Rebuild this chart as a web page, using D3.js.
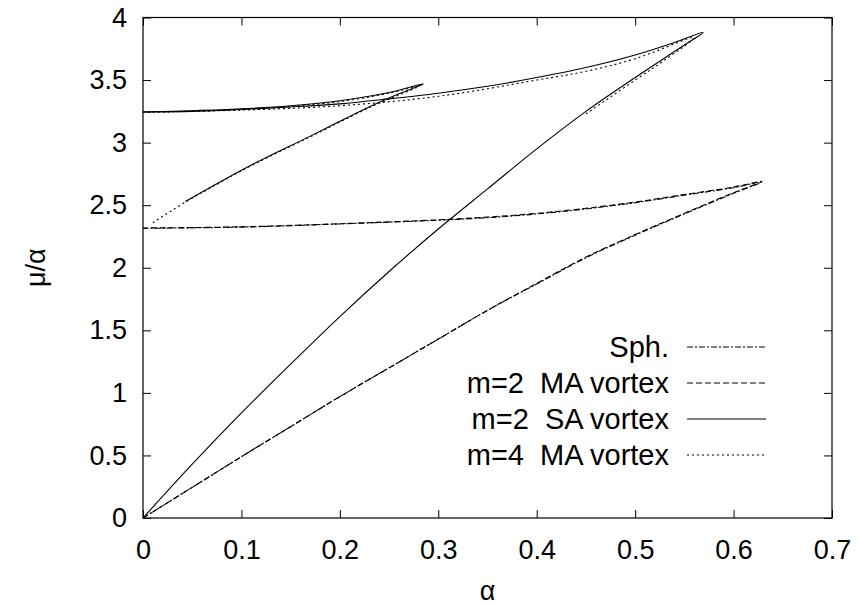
<!DOCTYPE html>
<html>
<head>
<meta charset="utf-8">
<script src="https://cdn.jsdelivr.net/npm/d3@7"></script>
<style>
  body { margin: 0; background: #fff; }
  text { font-family: "Liberation Sans", Arial, sans-serif; fill: #000; }
</style>
</head>
<body>
<div id="chart-area"></div>
<script>
const MARGIN = { LEFT: 143, RIGHT: 28, TOP: 17.5, BOTTOM: 87 };
const WIDTH = 860 - MARGIN.LEFT - MARGIN.RIGHT;
const HEIGHT = 605 - MARGIN.TOP - MARGIN.BOTTOM;
const FONT = 27;

const xTicks = [0, 0.1, 0.2, 0.3, 0.4, 0.5, 0.6, 0.7];
const yTicks = [0, 0.5, 1, 1.5, 2, 2.5, 3, 3.5, 4];

// Sph. : lower and upper branch joined at the turning point
const sphAlpha = [0, 0.05, 0.1, 0.15, 0.2, 0.25, 0.3, 0.35, 0.4, 0.45, 0.5, 0.55, 0.6, 0.628,
                  0.6, 0.55, 0.5, 0.45, 0.4, 0.35, 0.3, 0.2, 0.1, 0];
const sphMu = [0, 0.245, 0.49, 0.73, 0.97, 1.2, 1.43, 1.66, 1.87, 2.08, 2.26, 2.43, 2.595, 2.685,
               2.64, 2.58, 2.52, 2.47, 2.43, 2.40, 2.38, 2.35, 2.325, 2.315];

// m=2 MA vortex
const m2maAlpha = [0, 0.05, 0.1, 0.15, 0.2, 0.25, 0.3, 0.35, 0.4, 0.45, 0.5, 0.55, 0.6, 0.629,
                   0.6, 0.55, 0.5, 0.45, 0.4, 0.35, 0.3, 0.2, 0.1, 0];
const m2maMu = [0, 0.245, 0.49, 0.73, 0.97, 1.2, 1.43, 1.66, 1.875, 2.085, 2.265, 2.435, 2.6, 2.69,
                2.645, 2.585, 2.525, 2.475, 2.435, 2.405, 2.383, 2.352, 2.327, 2.318];

// m=2 SA vortex: large loop and small loop
const m2saAlpha = [0, 0.05, 0.1, 0.15, 0.2, 0.25, 0.3, 0.35, 0.4, 0.45, 0.5, 0.55, 0.569,
                   0.54, 0.5, 0.45, 0.4, 0.35, 0.3, 0.25, 0.2, 0.15, 0.1, 0.05, 0];
const m2saMu = [0, 0.43, 0.84, 1.23, 1.61, 1.97, 2.31, 2.63, 2.95, 3.25, 3.52, 3.78, 3.88,
                3.80, 3.70, 3.60, 3.52, 3.45, 3.395, 3.35, 3.31, 3.285, 3.265, 3.25, 3.245];
const m2saSmallAlpha = [0.043, 0.07, 0.1, 0.13, 0.167, 0.2, 0.234, 0.26, 0.285,
                        0.25, 0.2, 0.15, 0.1, 0.05, 0];
const m2saSmallMu = [2.53, 2.65, 2.78, 2.90, 3.04, 3.17, 3.30, 3.39, 3.47,
                     3.40, 3.335, 3.295, 3.27, 3.255, 3.245];

// m=4 MA vortex
const m4maAlpha = [0.45, 0.5, 0.53, 0.56, 0.5, 0.45, 0.4, 0.3, 0.2, 0.1, 0];
const m4maMu = [3.23, 3.50, 3.66, 3.84, 3.67, 3.57, 3.50, 3.37, 3.295, 3.26, 3.245];
const m4maSmallAlpha = [0.01, 0.043, 0.07, 0.1, 0.13, 0.167, 0.2, 0.234, 0.26, 0.28,
                        0.25, 0.2, 0.15, 0.1, 0.05, 0];
const m4maSmallMu = [2.36, 2.525, 2.645, 2.775, 2.895, 3.035, 3.165, 3.295, 3.38, 3.45,
                     3.395, 3.328, 3.29, 3.265, 3.25, 3.243];

const legendLabels = ['Sph.', 'm=2  MA vortex', 'm=2  SA vortex', 'm=4  MA vortex'];
const dashes = ['6,2,2,2', '6,3', null, '2,3'];

const zip = (a, b) => a.map((v, i) => [v, b[i]]);
const series = [
  { style: 0, curves: [zip(sphAlpha, sphMu)] },
  { style: 1, curves: [zip(m2maAlpha, m2maMu)] },
  { style: 2, curves: [zip(m2saAlpha, m2saMu), zip(m2saSmallAlpha, m2saSmallMu)] },
  { style: 3, curves: [zip(m4maAlpha, m4maMu), zip(m4maSmallAlpha, m4maSmallMu)] }
];

const x = d3.scaleLinear().domain([0, 0.7]).range([0, WIDTH]);
const y = d3.scaleLinear().domain([0, 4]).range([HEIGHT, 0]);

const svg = d3.select('#chart-area').append('svg')
  .attr('width', 860)
  .attr('height', 605);

const g = svg.append('g')
  .attr('transform', `translate(${MARGIN.LEFT}, ${MARGIN.TOP})`);

// ticks on all four sides, pointing inward
const tickLen = 8;
g.append('g').attr('transform', `translate(0, ${HEIGHT})`)
  .call(d3.axisBottom(x).tickValues(xTicks).tickSizeInner(-tickLen).tickSizeOuter(0).tickPadding(22).tickFormat(d3.format('')))
  .call(a => a.select('.domain').remove());
g.append('g')
  .call(d3.axisTop(x).tickValues(xTicks).tickSizeInner(-tickLen).tickSizeOuter(0).tickFormat(''))
  .call(a => a.select('.domain').remove());
g.append('g')
  .call(d3.axisLeft(y).tickValues(yTicks).tickSizeInner(-tickLen).tickSizeOuter(0).tickPadding(16).tickFormat(d3.format('')))
  .call(a => a.select('.domain').remove());
g.append('g').attr('transform', `translate(${WIDTH}, 0)`)
  .call(d3.axisRight(y).tickValues(yTicks).tickSizeInner(-tickLen).tickSizeOuter(0).tickFormat(''))
  .call(a => a.select('.domain').remove());

g.selectAll('.tick line').attr('stroke', '#000');
g.selectAll('.tick text').attr('font-size', FONT).attr('font-family', '"Liberation Sans", Arial, sans-serif');

g.append('rect')
  .attr('width', WIDTH)
  .attr('height', HEIGHT)
  .attr('fill', 'none')
  .attr('stroke', '#000')
  .attr('stroke-width', 1.2);

const pathLine = d3.line().x(d => x(d[0])).y(d => y(d[1])).curve(d3.curveCatmullRom);

series.forEach(s => {
  s.curves.forEach(c => {
    g.append('path')
      .attr('d', pathLine(c))
      .attr('fill', 'none')
      .attr('stroke', '#000')
      .attr('stroke-width', 1.1)
      .attr('stroke-dasharray', dashes[s.style]);
  });
});

// legend
const legendY = [347, 383, 419, 455];
legendLabels.forEach((lab, i) => {
  svg.append('text')
    .attr('x', 669)
    .attr('y', legendY[i])
    .attr('dy', '0.35em')
    .attr('text-anchor', 'end')
    .attr('font-size', 29)
    .style('white-space', 'pre')
    .text(lab);
  svg.append('line')
    .attr('x1', 687).attr('x2', 766)
    .attr('y1', legendY[i]).attr('y2', legendY[i])
    .attr('stroke', '#000')
    .attr('stroke-width', 1.1)
    .attr('stroke-dasharray', dashes[i]);
});

// axis titles
svg.append('text')
  .attr('x', MARGIN.LEFT + WIDTH / 2)
  .attr('y', 600)
  .attr('text-anchor', 'middle')
  .attr('font-size', FONT)
  .text('α');

svg.append('text')
  .attr('transform', `translate(45, ${MARGIN.TOP + HEIGHT / 2}) rotate(-90)`)
  .attr('text-anchor', 'middle')
  .attr('font-size', FONT)
  .text('μ/α');
</script>
</body>
</html>
